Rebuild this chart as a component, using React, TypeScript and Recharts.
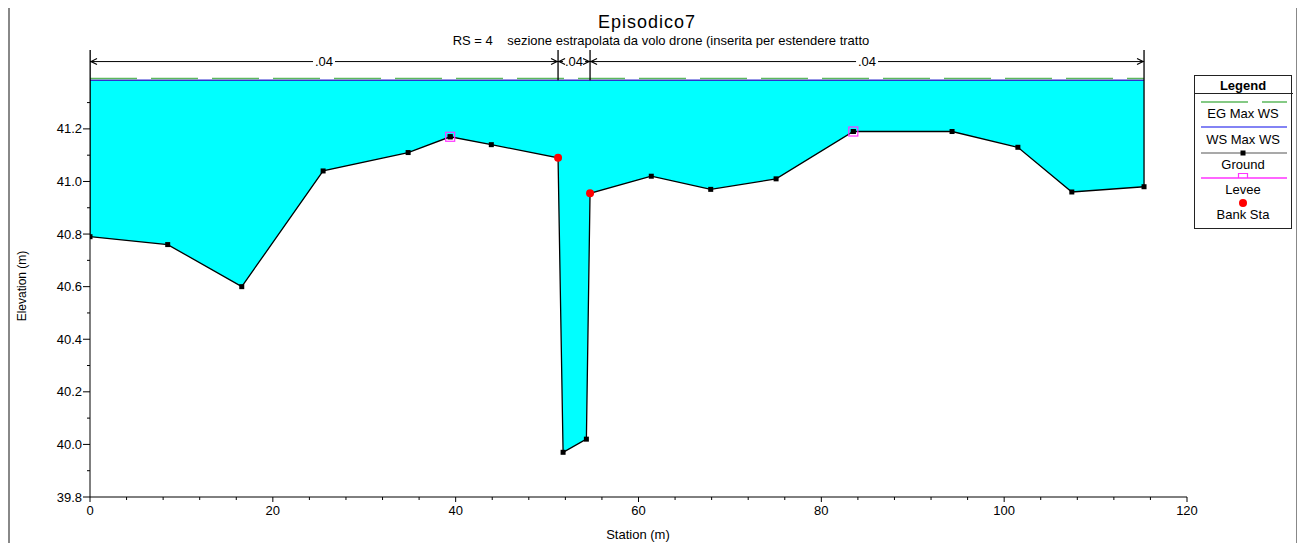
import React from 'react';
import { ComposedChart, Area, Line, Scatter, XAxis, YAxis } from 'recharts';

// Cross section ground survey (station m, elevation m)
const stations = [0, 8.5, 16.6, 25.5, 34.8, 39.4, 43.9, 51.2, 51.75, 54.3, 54.7, 61.4, 67.9, 75.05, 83.5, 94.3, 101.5, 107.4, 115.3];
const elevations = [40.79, 40.76, 40.6, 41.04, 41.11, 41.17, 41.14, 41.09, 39.97, 40.02, 40.955, 41.02, 40.97, 41.01, 41.19, 41.19, 41.13, 40.96, 40.98];

const leveeStations = [39.4, 83.5];
const leveeElevations = [41.17, 41.19];
const bankStations = [51.2, 54.7];
const bankElevations = [41.09, 40.955];

const wsMax = 41.385;
const egMax = 41.392;

// Manning's n zones
const nBreaks = [0, 51.2, 54.7, 115.3];
const nValues = ['.04', '.04', '.04'];
const nLevel = 41.456;
const nTop = 41.5;

const xTicks = [0, 4, 8, 12, 16, 20, 24, 28, 32, 36, 40, 44, 48, 52, 56, 60, 64, 68, 72, 76, 80, 84, 88, 92, 96, 100, 104, 108, 112, 116, 120];
const yTicks = [39.8, 39.9, 40.0, 40.1, 40.2, 40.3, 40.4, 40.5, 40.6, 40.7, 40.8, 40.9, 41.0, 41.1, 41.2, 41.3];

const FONT = '"Liberation Sans", Arial, sans-serif';

const groundRows = stations.map((x, i) => ({ x, y: elevations[i], water: [elevations[i], wsMax] }));
const wsRows = [{ x: stations[0], y: wsMax }, { x: stations[stations.length - 1], y: wsMax }];
const egRows = [{ x: stations[0], y: egMax }, { x: stations[stations.length - 1], y: egMax }];
const leveeRows = leveeStations.map((x, i) => ({ x, y: leveeElevations[i] }));
const bankRows = bankStations.map((x, i) => ({ x, y: bankElevations[i] }));
const nLineRows = [{ x: nBreaks[0], y: nLevel }, { x: nBreaks[nBreaks.length - 1], y: nLevel }];
const nBars = nBreaks.map((x, i) => {
  const bottom = i === 0 ? elevations[0] : i === nBreaks.length - 1 ? elevations[elevations.length - 1] : wsMax;
  return [{ x, y: bottom }, { x, y: nTop }];
});
const nLabelRows = nValues.map((v, i) => ({ x: (nBreaks[i] + nBreaks[i + 1]) / 2, y: nLevel, label: v }));
const nArrowRows = nValues.flatMap((_, i) => [
  { x: nBreaks[i], y: nLevel, dir: -1 },
  { x: nBreaks[i + 1], y: nLevel, dir: 1 },
]);

const XTick = (props: any) => {
  const { x, y, payload } = props;
  const major = payload.value % 20 === 0;
  return (
    <g>
      <line x1={x} x2={x} y1={y} y2={y + (major ? 5 : 3)} stroke="#000" />
      {major && (
        <text x={x} y={y + 18} textAnchor="middle" fontSize={13} fontFamily={FONT} fill="#000">
          {payload.value}
        </text>
      )}
    </g>
  );
};

const YTick = (props: any) => {
  const { x, y, payload } = props;
  const major = Math.round(payload.value * 10) % 2 === 0;
  return (
    <g>
      <line x1={x - (major ? 7 : 3)} x2={x} y1={y} y2={y} stroke="#000" />
      {major && (
        <text x={x - 8} y={y + 4.5} textAnchor="end" fontSize={13} fontFamily={FONT} fill="#000">
          {payload.value.toFixed(1)}
        </text>
      )}
    </g>
  );
};

const GroundDot = (p: any) => (
  <rect key={`g-${p.index}`} x={p.cx - 2.5} y={p.cy - 2.5} width={5} height={5} fill="#000" />
);

const LeveeMark = (p: any) => (
  <g>
    <rect x={p.cx - 4.5} y={p.cy - 4.5} width={9} height={9} fill="none" stroke="#ff33ff" strokeWidth={1.2} />
    <rect x={p.cx - 2.5} y={p.cy - 2.5} width={5} height={5} fill="#000" />
  </g>
);

const BankMark = (p: any) => <circle cx={p.cx} cy={p.cy} r={4} fill="#ff0000" />;

const NLabel = (p: any) => (
  <g>
    <rect x={p.cx - 11} y={p.cy - 7} width={22} height={14} fill="#fff" />
    <text x={p.cx} y={p.cy + 4.5} textAnchor="middle" fontSize={13} fontFamily={FONT} fill="#000">
      {p.payload.label}
    </text>
  </g>
);

const NArrow = (p: any) => {
  const d = p.payload.dir;
  const tip = p.cx - d;
  return (
    <path
      d={`M${tip - 6 * d},${p.cy - 3} L${tip},${p.cy} L${tip - 6 * d},${p.cy + 3}`}
      fill="none"
      stroke="#000"
      strokeWidth={1.2}
    />
  );
};

const Legend = () => (
  <g fontFamily={FONT} fontSize={13} fill="#000">
    <rect x={1186.5} y={67.5} width={97} height={153} fill="#fff" stroke="#222" />
    <text x={1235} y={82} textAnchor="middle" fontWeight="bold">Legend</text>
    <line x1={1186} x2={1285} y1={85.5} y2={85.5} stroke="#222" />
    <line x1={1193} x2={1279} y1={94} y2={94} stroke="#5cb85c" strokeWidth={1.5} strokeDasharray="47 14" />
    <text x={1235} y={110} textAnchor="middle">EG Max WS</text>
    <line x1={1193} x2={1279} y1={119} y2={119} stroke="#5a5af0" strokeWidth={1.5} />
    <text x={1235} y={136} textAnchor="middle">WS Max WS</text>
    <line x1={1193} x2={1279} y1={145} y2={145} stroke="#555" strokeWidth={1.2} />
    <rect x={1232.5} y={142.5} width={5} height={5} fill="#000" />
    <text x={1235} y={161} textAnchor="middle">Ground</text>
    <line x1={1193} x2={1279} y1={170} y2={170} stroke="#ff33ff" strokeWidth={1.5} />
    <path d="M1230.5,170 V165.5 H1239.5 V170" fill="none" stroke="#ff33ff" strokeWidth={1.2} />
    <text x={1235} y={186} textAnchor="middle">Levee</text>
    <circle cx={1235} cy={195} r={4} fill="#ff0000" />
    <text x={1235} y={211} textAnchor="middle">Bank Sta</text>
  </g>
);

export default function App() {
  return (
    <div style={{ position: 'relative', width: 1290, height: 540, fontFamily: FONT }}>
      <style>{'body{overflow:hidden}'}</style>
      <ComposedChart width={1290} height={540} margin={{ top: 42, right: 111, bottom: 7, left: 0 }}>
        <XAxis
          type="number"
          dataKey="x"
          domain={[0, 120]}
          ticks={xTicks}
          interval={0}
          tickSize={0}
          tickMargin={0}
          tick={<XTick />}
          axisLine={{ stroke: '#000' }}
          height={44}
          allowDataOverflow
        />
        <YAxis
          type="number"
          domain={[39.8, nTop]}
          ticks={yTicks}
          interval={0}
          tickSize={0}
          tickMargin={0}
          tick={<YTick />}
          axisLine={{ stroke: '#000' }}
          width={82}
          allowDataOverflow
        />
        <Area
          data={groundRows}
          dataKey="water"
          type="linear"
          fill="#00ffff"
          fillOpacity={1}
          stroke="none"
          isAnimationActive={false}
        />
        <Line data={wsRows} dataKey="y" stroke="#3030d0" strokeWidth={1.3} dot={false} isAnimationActive={false} />
        <Line data={egRows} dataKey="y" stroke="#5cb85c" strokeWidth={1.5} strokeDasharray="47 14" dot={false} isAnimationActive={false} />
        <Line data={nLineRows} dataKey="y" stroke="#000" strokeWidth={1} dot={false} isAnimationActive={false} />
        {nBars.map((rows, i) => (
          <Line key={`bar-${i}`} data={rows} dataKey="y" stroke="#000" strokeWidth={1.3} dot={false} isAnimationActive={false} />
        ))}
        <Scatter data={nLabelRows} dataKey="y" shape={NLabel} isAnimationActive={false} />
        <Scatter data={nArrowRows} dataKey="y" shape={NArrow} isAnimationActive={false} />
        <Line data={groundRows} dataKey="y" type="linear" stroke="#000" strokeWidth={1.3} dot={GroundDot} isAnimationActive={false} />
        <Scatter data={leveeRows} dataKey="y" shape={LeveeMark} isAnimationActive={false} />
        <Scatter data={bankRows} dataKey="y" shape={BankMark} isAnimationActive={false} />
      </ComposedChart>
      <svg width={1290} height={540} style={{ position: 'absolute', left: 0, top: 0, pointerEvents: 'none' }}>
        <text x={639} y={20} textAnchor="middle" fontFamily={FONT} fontSize={18} letterSpacing={1} fill="#000">Episodico7</text>
        <text x={653} y={37} textAnchor="middle" fontFamily={FONT} fontSize={13} fill="#000" style={{ whiteSpace: 'pre' }}>
          {'RS = 4    sezione estrapolata da volo drone (inserita per estendere tratto'}
        </text>
        <text x={630} y={531} textAnchor="middle" fontFamily={FONT} fontSize={13} fill="#000">Station (m)</text>
        <text x={18} y={278} textAnchor="middle" fontFamily={FONT} fontSize={12} fill="#000" transform="rotate(-90 18 278)">Elevation (m)</text>
        <Legend />
        <line x1={0} x2={1290} y1={-0.5} y2={-0.5} stroke="#000" />
        <line x1={1} x2={1} y1={0} y2={540} stroke="#888" strokeWidth={2} />
        <line x1={1289} x2={1289} y1={0} y2={540} stroke="#888" strokeWidth={2} />
      </svg>
    </div>
  );
}
